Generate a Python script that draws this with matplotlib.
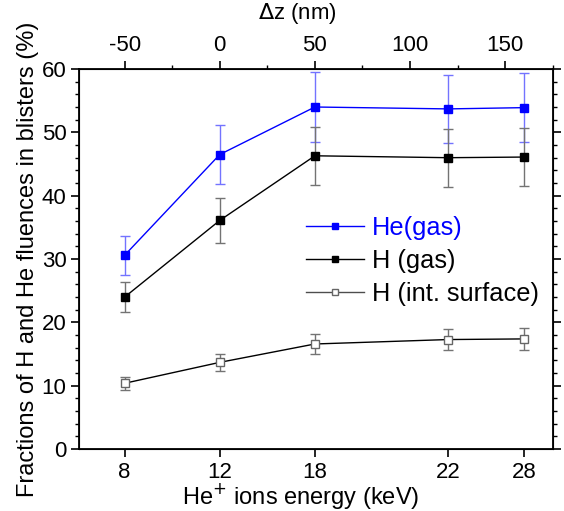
import matplotlib
matplotlib.use('Agg')
import matplotlib.pyplot as plt
from matplotlib.lines import Line2D
from matplotlib.ticker import MultipleLocator

plt.rcParams['font.family'] = ['Liberation Sans', 'DejaVu Sans']
plt.rcParams['axes.unicode_minus'] = False

# data
dz = [-50, 0, 50, 120, 160]
energy_labels = ['8', '12', '18', '22', '28']

he_gas = [30.6, 46.5, 54.0, 53.7, 53.9]
he_gas_err = [3.1, 4.6, 5.5, 5.4, 5.4]
h_gas = [24.0, 36.1, 46.3, 46.0, 46.1]
h_gas_err = [2.4, 3.6, 4.6, 4.6, 4.6]
h_surf = [10.4, 13.7, 16.6, 17.3, 17.4]
h_surf_err = [1.0, 1.3, 1.6, 1.7, 1.7]

fig = plt.figure(figsize=(5.64, 5.11), dpi=100)
ax = fig.add_axes([0.140, 0.121, 0.840, 0.744])

ax.errorbar(dz, he_gas, yerr=he_gas_err, color='blue', marker='s', ms=6,
            lw=1.0, ecolor=(0.45, 0.45, 1.0), elinewidth=1.0, capsize=3.5,
            zorder=3)
ax.errorbar(dz, h_gas, yerr=h_gas_err, color='black', marker='s', ms=6,
            lw=1.0, ecolor='0.45', elinewidth=1.0, capsize=3.5, zorder=3)
ax.errorbar(dz, h_surf, yerr=h_surf_err, color='black', marker='s', ms=6,
            mfc='white', mec='0.4', lw=1.0, ecolor='0.45', elinewidth=1.0,
            capsize=3.5, zorder=3)

ax.set_xlim(-74, 175)
ax.set_ylim(0, 60)
ax.set_xticks(dz)
ax.set_xticklabels(energy_labels)
ax.yaxis.set_major_locator(MultipleLocator(10))
ax.yaxis.set_minor_locator(MultipleLocator(2))
ax.tick_params(axis='both', which='major', labelsize=16, length=6, width=1.2,
               direction='out', pad=3)
ax.tick_params(axis='y', which='minor', length=3, width=1.0, direction='out')
ax.tick_params(axis='y', which='both', right=True)
ax.set_ylabel('Fractions of H and He fluences in blisters (%)', fontsize=17,
              labelpad=2)
for s in ax.spines.values():
    s.set_linewidth(1.3)

# x labels sit a bit left of the axes centre in the original
fig.text(301 / 564, 1 - 496 / 511, 'He$^{+}$ ions energy (keV)', fontsize=17,
         ha='center', va='center')

top = ax.twiny()
top.set_xlim(ax.get_xlim())
top.xaxis.set_minor_locator(MultipleLocator(25))
top.set_xticks([-50, 0, 50, 100, 150])
top.tick_params(axis='x', which='major', labelsize=16, length=6, width=1.2,
                direction='out', pad=3)
top.tick_params(axis='x', which='minor', length=3, width=1.0, direction='out')
fig.text(297 / 564, 1 - 14 / 511, '$\\Delta$z (nm)', fontsize=16,
         ha='center', va='center')

handles = [
    Line2D([], [], color='blue', marker='s', ms=5, lw=1.0),
    Line2D([], [], color='black', marker='s', ms=5, lw=1.0),
    Line2D([], [], color='0.3', marker='s', ms=5, mfc='white', mec='0.4', lw=1.0),
]
labels = ['He(gas)', 'H (gas)', 'H (int. surface)']
leg = ax.legend(handles, labels, loc='center left', bbox_to_anchor=(0.43, 0.495),
                frameon=False, fontsize=18.3, handlelength=2.3,
                handletextpad=0.3, labelspacing=0.36)
leg.get_texts()[0].set_color('blue')

fig.savefig('out.png', dpi=100)
